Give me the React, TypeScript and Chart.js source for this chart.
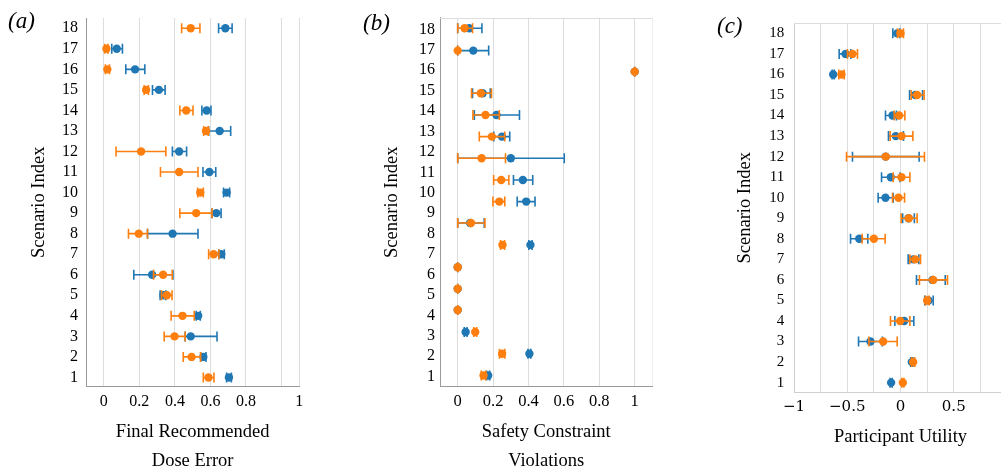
import React, { useEffect, useRef } from 'react';
import { Chart, registerables } from 'chart.js';

Chart.register(...registerables);

const BLUE = '#1f77b4';
const ORANGE = '#ff7f0e';
const SERIF = '"Liberation Serif", "Times New Roman", serif';
const DVSERIF = '"DejaVu Serif", serif';

// ---------- shared ----------
const scenarios = [1, 2, 3, 4, 5, 6, 7, 8, 9, 10, 11, 12, 13, 14, 15, 16, 17, 18];
const yTicks = scenarios;
const yTitle = 'Scenario Index';

// ---------- panel (a): Final Recommended Dose Error (scenario 1..18) ----------
const aOrange = [0.589, 0.494, 0.398, 0.443, 0.355, 0.334, 0.618, 0.197, 0.520, 0.543, 0.424, 0.210, 0.575, 0.464, 0.238, 0.020, 0.015, 0.489];
const aOrangeLo = [0.560, 0.447, 0.340, 0.379, 0.325, 0.280, 0.590, 0.139, 0.428, 0.528, 0.319, 0.069, 0.562, 0.428, 0.227, 0.009, 0.005, 0.438];
const aOrangeHi = [0.620, 0.545, 0.458, 0.509, 0.384, 0.385, 0.648, 0.246, 0.609, 0.560, 0.530, 0.349, 0.588, 0.502, 0.251, 0.032, 0.024, 0.541];
const aBlue = [0.704, 0.560, 0.489, 0.531, 0.336, 0.272, 0.661, 0.387, 0.633, 0.691, 0.594, 0.424, 0.652, 0.579, 0.310, 0.176, 0.073, 0.684];
const aBlueLo = [0.691, 0.545, 0.458, 0.520, 0.317, 0.169, 0.648, 0.246, 0.609, 0.674, 0.558, 0.386, 0.590, 0.552, 0.274, 0.124, 0.045, 0.646];
const aBlueHi = [0.718, 0.575, 0.637, 0.543, 0.349, 0.389, 0.678, 0.530, 0.660, 0.708, 0.630, 0.466, 0.714, 0.603, 0.345, 0.231, 0.105, 0.722];
const aXTicks = [0, 0.2, 0.4, 0.6, 0.8, 1.0, 1.1];
const aXLabels = ['0', '0.2', '0.4', '0.6', '0.8', '', '1'];
const aXTitle = ['Final Recommended', 'Dose Error'];

// ---------- panel (b): Safety Constraint Violations (rows bottom -> top) ----------
const bRowY = [1.06, 2.12, 3.19, 4.26, 5.30, 6.36, 7.45, 8.52, 9.57, 10.63, 11.69, 12.75, 13.81, 14.87, 15.93, 16.96, 18.05];
const bOrange = [0.146, 0.251, 0.099, 0, 0, 0, 0.253, 0.075, 0.235, 0.246, 0.135, 0.193, 0.157, 0.131, 1.0, 0, 0.039];
const bOrangeLo = [0.133, 0.236, 0.091, 0, 0, 0, 0.242, 0, 0.199, 0.203, 0, 0.122, 0.086, 0.078, 1.0, 0, 0];
const bOrangeHi = [0.159, 0.266, 0.107, 0, 0, 0, 0.265, 0.154, 0.266, 0.289, 0.270, 0.266, 0.235, 0.191, 1.0, 0, 0.084];
const bBlue = [0.172, 0.405, 0.045, 0, 0, 0, 0.411, 0.07, 0.387, 0.368, 0.300, 0.250, 0.219, 0.141, 1.0, 0.088, 0.065];
const bBlueLo = [0.163, 0.397, 0.037, 0, 0, 0, 0.402, 0, 0.336, 0.315, 0, 0.204, 0.094, 0.084, 1.0, 0, 0];
const bBlueHi = [0.181, 0.413, 0.053, 0, 0, 0, 0.420, 0.15, 0.437, 0.424, 0.602, 0.294, 0.349, 0.184, 1.0, 0.175, 0.137];
const bXTicks = [0, 0.2, 0.4, 0.6, 0.8, 1.0, 1.1];
const bXLabels = ['0', '0.2', '0.4', '0.6', '0.8', '1', ''];
const bXTitle = ['Safety Constraint', 'Violations'];

// ---------- panel (c): Participant Utility (scenario 1..18) ----------
const cBlue = [-0.088, 0.106, -0.282, 0.034, 0.263, 0.30, 0.119, -0.388, 0.075, -0.141, -0.091, -0.14, -0.044, -0.075, 0.138, -0.632, -0.516, -0.031];
const cBlueLo = [-0.098, 0.096, -0.394, -0.053, 0.228, 0.15, 0.072, -0.469, 0.02, -0.21, -0.178, -0.451, -0.113, -0.141, 0.085, -0.642, -0.576, -0.072];
const cBlueHi = [-0.078, 0.116, -0.17, 0.125, 0.307, 0.42, 0.172, -0.307, 0.13, -0.069, -0.004, 0.175, 0.028, -0.038, 0.207, -0.622, -0.466, -0.006];
const cOrange = [0.022, 0.119, -0.163, -0.003, 0.25, 0.307, 0.138, -0.25, 0.078, -0.019, 0.009, -0.138, 0.009, -0.013, 0.156, -0.554, -0.451, 0.0];
const cOrangeLo = [0.012, 0.104, -0.297, -0.094, 0.235, 0.178, 0.088, -0.36, 0.006, -0.075, -0.069, -0.507, -0.097, -0.059, 0.1, -0.579, -0.498, -0.028];
const cOrangeHi = [0.032, 0.134, -0.031, 0.088, 0.269, 0.441, 0.188, -0.144, 0.156, 0.038, 0.088, 0.225, 0.116, 0.041, 0.222, -0.529, -0.404, 0.028];
const cXTicks = [-1, -0.75, -0.5, -0.25, 0, 0.25, 0.5, 0.75, 1];
const cXLabels = ['\u22121', '', '\u22120.5', '', '0', '', '0.5', '', '1'];
const cXTitle = 'Participant Utility';

// ---------- plugins ----------
const errorBarPlugin = {
  id: 'errorBars',
  beforeDatasetDraw(chart: any, args: any) {
    const ds = chart.data.datasets[args.index];
    if (!ds.lo) return;
    const xs = chart.scales.x;
    const ys = chart.scales.y;
    const ctx = chart.ctx;
    ctx.save();
    ctx.strokeStyle = ds.backgroundColor;
    ctx.lineWidth = 1.6;
    ds.data.forEach((pt: any, i: number) => {
      const y = ys.getPixelForValue(pt.y);
      const x1 = xs.getPixelForValue(ds.lo[i]);
      const x2 = xs.getPixelForValue(ds.hi[i]);
      ctx.beginPath();
      ctx.moveTo(x1, y);
      ctx.lineTo(x2, y);
      ctx.moveTo(x1, y - 5);
      ctx.lineTo(x1, y + 5);
      ctx.moveTo(x2, y - 5);
      ctx.lineTo(x2, y + 5);
      ctx.stroke();
    });
    ctx.restore();
  },
};

const framePlugin = {
  id: 'frame',
  beforeDatasetsDraw(chart: any, _args: any, opts: any) {
    if (!opts || !opts.top) return;
    const { left, right, top } = chart.chartArea;
    const ctx = chart.ctx;
    ctx.save();
    ctx.strokeStyle = opts.top;
    ctx.lineWidth = 1;
    ctx.beginPath();
    ctx.moveTo(left, Math.round(top) + 0.5);
    ctx.lineTo(right, Math.round(top) + 0.5);
    ctx.stroke();
    ctx.restore();
  },
};

type Spec = {
  width: number;
  ys: number[];
  orange: number[]; orangeLo: number[]; orangeHi: number[];
  blue: number[]; blueLo: number[]; blueHi: number[];
  xMin: number; xMax: number; xTicks: number[]; xLabels: string[];
  yMin: number; yMax: number;
  xTitle: string | string[]; xTitleLH: number; xTitlePad: number;
  yTitlePad: number;
  yAxisW: number; xAxisH: number;
  padTop: number; padRight: number;
  yTickPad: number; yTickSize: number;
  xTickPad: number; xTickFont: any;
  axisColor: string; gridColor: string; edgeColor?: string; topLine?: string;
};

function buildConfig(s: Spec): any {
  return {
    type: 'scatter',
    data: {
      datasets: [
        {
          label: 'orange',
          data: s.orange.map((v, i) => ({ x: v, y: s.ys[i] })),
          lo: s.orangeLo, hi: s.orangeHi,
          backgroundColor: ORANGE, borderColor: ORANGE,
          pointRadius: 4.2, borderWidth: 0, pointHoverRadius: 4.2,
        },
        {
          label: 'blue',
          data: s.blue.map((v, i) => ({ x: v, y: s.ys[i] })),
          lo: s.blueLo, hi: s.blueHi,
          backgroundColor: BLUE, borderColor: BLUE,
          pointRadius: 4.2, borderWidth: 0, pointHoverRadius: 4.2,
        },
      ],
    },
    options: {
      responsive: false,
      animation: false,
      events: [],
      layout: { padding: { left: 0, right: s.padRight, top: s.padTop, bottom: 0 } },
      plugins: {
        legend: { display: false },
        tooltip: { enabled: false },
        frame: { top: s.topLine },
      },
      scales: {
        x: {
          type: 'linear',
          min: s.xMin,
          max: s.xMax,
          afterBuildTicks: (sc: any) => { sc.ticks = s.xTicks.map((v) => ({ value: v })); },
          afterFit: (sc: any) => { sc.height = s.xAxisH; },
          ticks: {
            autoSkip: false,
            maxRotation: 0,
            padding: s.xTickPad,
            color: '#000',
            font: s.xTickFont,
            callback: (_v: any, i: number) => s.xLabels[i],
          },
          grid: {
            drawTicks: false,
            lineWidth: 1,
            color: (ctx: any) => (ctx.tick && ctx.tick.value === s.xMax && s.edgeColor ? s.edgeColor : s.gridColor),
          },
          border: { display: true, color: s.axisColor, width: 1 },
          title: {
            display: true,
            text: s.xTitle,
            color: '#000',
            font: { family: SERIF, size: 18.5, lineHeight: s.xTitleLH },
            padding: { top: 0, bottom: s.xTitlePad },
          },
        },
        y: {
          type: 'linear',
          min: s.yMin,
          max: s.yMax,
          afterBuildTicks: (sc: any) => { sc.ticks = yTicks.map((v) => ({ value: v })); },
          afterFit: (sc: any) => { sc.width = s.yAxisW; },
          ticks: {
            autoSkip: false,
            padding: s.yTickPad,
            color: '#000',
            font: { family: SERIF, size: s.yTickSize },
            callback: (v: any) => String(v),
          },
          grid: { display: false, drawTicks: false },
          border: { display: true, color: s.axisColor, width: 1 },
          title: {
            display: true,
            text: yTitle,
            color: '#000',
            font: { family: SERIF, size: 18.5, lineHeight: 1.2 },
            padding: { top: s.yTitlePad, bottom: 0 },
          },
        },
      },
    },
    plugins: [errorBarPlugin, framePlugin],
  };
}

const specA: Spec = {
  width: 330, ys: scenarios,
  orange: aOrange, orangeLo: aOrangeLo, orangeHi: aOrangeHi,
  blue: aBlue, blueLo: aBlueLo, blueHi: aBlueHi,
  xMin: -0.1, xMax: 1.1, xTicks: aXTicks, xLabels: aXLabels,
  yMin: 0.55, yMax: 18.5,
  xTitle: aXTitle, xTitleLH: 29 / 18.5, xTitlePad: -6.6,
  yTitlePad: 27.7,
  yAxisW: 86, xAxisH: 469 - 386.7,
  padTop: 18, padRight: 330 - 299.3,
  yTickPad: 8, yTickSize: 16,
  xTickPad: 5.6, xTickFont: { family: SERIF, size: 16 },
  axisColor: '#9a9a9a', gridColor: '#dddddd',
};

const specB: Spec = {
  width: 330, ys: bRowY,
  orange: bOrange, orangeLo: bOrangeLo, orangeHi: bOrangeHi,
  blue: bBlue, blueLo: bBlueLo, blueHi: bBlueHi,
  xMin: -0.1, xMax: 1.1, xTicks: bXTicks, xLabels: bXLabels,
  yMin: 0.51, yMax: 18.57,
  xTitle: bXTitle, xTitleLH: 29 / 18.5, xTitlePad: -6.6,
  yTitlePad: 51,
  yAxisW: 110, xAxisH: 469 - 386.7,
  padTop: 17.7, padRight: 660 - 652.4,
  yTickPad: 5, yTickSize: 16,
  xTickPad: 5.0, xTickFont: { family: SERIF, size: 16.5 },
  axisColor: '#9a9a9a', gridColor: '#dddddd', edgeColor: '#efefef', topLine: '#dddddd',
};

const specC: Spec = {
  width: 360, ys: scenarios,
  orange: cOrange, orangeLo: cOrangeLo, orangeHi: cOrangeHi,
  blue: cBlue, blueLo: cBlueLo, blueHi: cBlueHi,
  xMin: -1, xMax: 1, xTicks: cXTicks, xLabels: cXLabels,
  yMin: 0.53, yMax: 18.49,
  xTitle: cXTitle, xTitleLH: 1.2, xTitlePad: 20.8,
  yTitlePad: 74.4,
  yAxisW: 134, xAxisH: 469 - 392.3,
  padTop: 23.3, padRight: 1020 - 1007,
  yTickPad: 9.7, yTickSize: 15,
  xTickPad: 6.2, xTickFont: { family: DVSERIF, size: 15 },
  axisColor: '#cfcfcf', gridColor: '#dddddd', topLine: '#dddddd',
};

function Panel({ spec, left }: { spec: Spec; left: number }) {
  const ref = useRef<HTMLCanvasElement | null>(null);
  useEffect(() => {
    if (!ref.current) return;
    const chart = new Chart(ref.current, buildConfig(spec));
    return () => chart.destroy();
  }, [spec]);
  return (
    <canvas
      ref={ref}
      width={spec.width}
      height={469}
      style={{ position: 'absolute', left, top: 0, width: spec.width, height: 469 }}
    />
  );
}

const labelStyle = (left: number, baseline: number): React.CSSProperties => ({
  position: 'absolute',
  left,
  top: baseline - 19.3,
  fontFamily: SERIF,
  fontStyle: 'italic',
  fontSize: 23,
  lineHeight: 1,
  color: '#000',
  whiteSpace: 'nowrap',
});

export default function App() {
  return (
    <div
      style={{
        position: 'fixed', left: 0, top: 0, width: 1001, height: 469,
        overflow: 'hidden', background: '#fff',
      }}
    >
      <Panel spec={specA} left={0} />
      <Panel spec={specB} left={330} />
      <Panel spec={specC} left={660} />
      <div style={labelStyle(8, 28)}>(a)</div>
      <div style={labelStyle(363, 30.5)}>(b)</div>
      <div style={labelStyle(717, 33.3)}>(c)</div>
    </div>
  );
}
